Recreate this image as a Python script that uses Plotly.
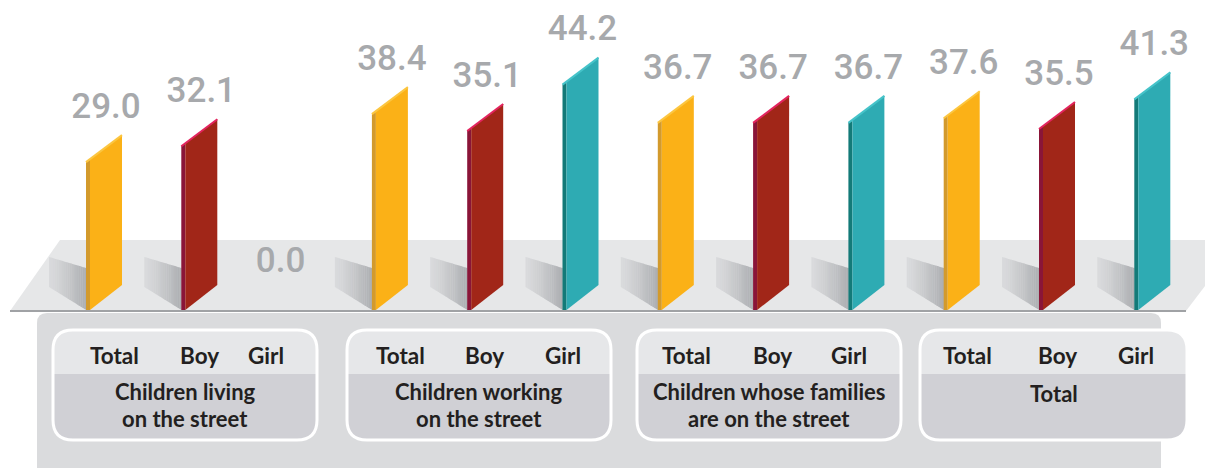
import plotly.graph_objects as go

# ---------------- data ----------------
categories = ["Children living<br>on the street",
              "Children working<br>on the street",
              "Children whose families<br>are on the street",
              "Total"]
series_names = ["Total", "Boy", "Girl"]
total_vals = [29.0, 38.4, 36.7, 37.6]
boy_vals = [32.1, 35.1, 36.7, 35.5]
girl_vals = [0.0, 44.2, 36.7, 41.3]

# ---------------- style / geometry ----------------
WIN_W, WIN_H = 1213, 468
OFF = 8                      # default page body margin
W, H = WIN_W - OFF, WIN_H - OFF
X0PX, STEP = 86.0, 95.3      # px of first bar, px per slot
BASE, K = 310.0, 5.1         # px of value 0, px per unit

face_col = {"Total": "#FBB117", "Boy": "#A12618", "Girl": "#2EABB3"}
strip_col = {"Total": "#D39A2C", "Boy": "#8A1538", "Girl": "#137A78"}
edge_col = {"Total": "#FCC640", "Boy": "#E3245E", "Girl": "#45C3C9"}
LABEL_GRAY = "#A7A9AC"
TEXT_DARK = "#231F20"


def dx(p):
    return p / STEP


def dy(p):
    return p / K


def px(x):
    return (x - OFF) / W


def py(y):
    return 1 - (y - OFF) / H


fig = go.Figure()
shapes = []

# floor (paper coords)
floor = [(10, 311), (60, 240), (1240, 240), (1186, 311)]
path = "M " + " L ".join(f"{px(a)},{py(b)}" for a, b in floor) + " Z"
shapes.append(dict(type="path", xref="paper", yref="paper", path=path,
                   fillcolor="#E6E7E8", line=dict(width=0), layer="below"))


def rrect(x0, y0, x1, y1, r, top_only=False):
    if top_only:
        return (f"M {px(x0)},{py(y1)} L {px(x0)},{py(y0 + r)} "
                f"Q {px(x0)},{py(y0)} {px(x0 + r)},{py(y0)} "
                f"L {px(x1 - r)},{py(y0)} Q {px(x1)},{py(y0)} {px(x1)},{py(y0 + r)} "
                f"L {px(x1)},{py(y1)} Z")
    return (f"M {px(x0)},{py(y1 - r)} L {px(x0)},{py(y0 + r)} "
            f"Q {px(x0)},{py(y0)} {px(x0 + r)},{py(y0)} "
            f"L {px(x1 - r)},{py(y0)} Q {px(x1)},{py(y0)} {px(x1)},{py(y0 + r)} "
            f"L {px(x1)},{py(y1 - r)} Q {px(x1)},{py(y1)} {px(x1 - r)},{py(y1)} "
            f"L {px(x0 + r)},{py(y1)} Q {px(x0)},{py(y1)} {px(x0)},{py(y1 - r)} Z")


# bottom panel
shapes.append(dict(type="path", xref="paper", yref="paper",
                   path=rrect(37, 313, 1161, 490, 10),
                   fillcolor="#DADBDD", line=dict(width=0), layer="below"))
# floor front edge
shapes.append(dict(type="line", xref="paper", yref="paper",
                   x0=px(10), x1=px(1186), y0=py(311), y1=py(311),
                   line=dict(color="#A0A2A5", width=2), layer="below"))

# category boxes
boxes = [(53, 317), (347, 611), (637, 901), (920, 1187)]
BTOP, BDIV, BBOT = 330, 374, 440
for (a, b) in boxes:
    shapes.append(dict(type="path", xref="paper", yref="paper",
                       path=rrect(a, BTOP, b, BBOT, 20),
                       fillcolor="#D0D0D5", line=dict(width=0), layer="below"))
    shapes.append(dict(type="path", xref="paper", yref="paper",
                       path=rrect(a, BTOP, b, BDIV, 20, top_only=True),
                       fillcolor="#E6E7E9", line=dict(width=0), layer="below"))
    shapes.append(dict(type="path", xref="paper", yref="paper",
                       path=rrect(a, BTOP, b, BBOT, 20),
                       fillcolor="rgba(0,0,0,0)", line=dict(color="white", width=3),
                       layer="below"))

# ---------------- bars ----------------
series_vals = {"Total": total_vals, "Boy": boy_vals, "Girl": girl_vals}
label_x, label_y, label_t = [], [], []
NSH = 20
c_left = (218, 219, 221)
c_right = (172, 174, 177)
for g in range(len(categories)):
    for s, name in enumerate(series_names):
        i = g * 3 + s
        v = series_vals[name][g]
        label_x.append(i + (dx(20) if v > 0 else dx(4)))
        label_y.append(v + dy(53) if v > 0 else v + dy(47))
        label_t.append(f"{v:.1f}")
        if v <= 0:
            continue
        # shadow (gradient strips)
        for k in range(NSH):
            t0, t1 = k / NSH, (k + 1) / NSH
            xl, xr = i - dx(37) * (1 - t0), i - dx(37) * (1 - t1)
            bl = dy(23) * (1 - t0)
            br = dy(23) * (1 - t1)
            tl = dy(53) + (dy(42) - dy(53)) * t0
            tr = dy(53) + (dy(42) - dy(53)) * t1
            tm = ((t0 + t1) / 2) ** 1.3
            c = tuple(int(c_left[j] + (c_right[j] - c_left[j]) * tm) for j in range(3))
            shapes.append(dict(type="path", xref="x", yref="y",
                               path=f"M {xl},{bl} L {xl},{tl} L {xr + 0.003},{tr} L {xr + 0.003},{br} Z",
                               fillcolor=f"rgb{c}", line=dict(width=0), layer="below"))
        # front strip
        fig.add_trace(go.Scatter(
            x=[i, i, i + dx(4), i + dx(4), i], y=[0, v, v + dy(3), 0, 0],
            fill="toself", fillcolor=strip_col[name], mode="lines",
            line=dict(width=0, color=strip_col[name]), hoverinfo="skip", showlegend=False))
        # face
        fig.add_trace(go.Scatter(
            x=[i + dx(4), i + dx(4), i + dx(36), i + dx(36), i + dx(4)],
            y=[0, v + dy(3), v + dy(27), dy(25), 0],
            fill="toself", fillcolor=face_col[name], mode="lines",
            line=dict(width=0, color=face_col[name]), hoverinfo="skip", showlegend=False))
        # top edge highlight
        fig.add_trace(go.Scatter(
            x=[i, i + dx(36)], y=[v, v + dy(27)], mode="lines",
            line=dict(width=2, color=edge_col[name]), hoverinfo="skip", showlegend=False))

fig.add_trace(go.Scatter(
    x=label_x, y=label_y, text=label_t, mode="text",
    textfont=dict(family="Roboto", size=35, color=LABEL_GRAY, weight=500),
    textposition="middle center", hoverinfo="skip", showlegend=False))

# ---------------- box texts ----------------
annotations = []
sub_pos = [(114, 199, 266), (400, 484, 563), (686, 772, 849), (968, 1057, 1136)]
SUB_FONT = dict(family="Lato", size=22.5, color=TEXT_DARK, weight="bold")
CAT_FONT = dict(family="Lato", size=22, color=TEXT_DARK, weight="bold")
for g, cat in enumerate(categories):
    for s, name in enumerate(series_names):
        annotations.append(dict(x=px(sub_pos[g][s]), y=py(355), xref="paper", yref="paper",
                                text=name, showarrow=False, font=SUB_FONT,
                                xanchor="center", yanchor="middle"))
    a, b = boxes[g]
    lines = cat.split("<br>")
    y0 = 393 if len(lines) == 1 else 391
    for ln, line in enumerate(lines):
        annotations.append(dict(x=px((a + b) / 2), y=py(y0 + 27 * ln), xref="paper", yref="paper",
                                text=line, showarrow=False, font=CAT_FONT,
                                xanchor="center", yanchor="middle", align="center"))

fig.update_layout(
    width=W, height=H, margin=dict(l=0, r=0, t=0, b=0),
    paper_bgcolor="white", plot_bgcolor="white",
    xaxis=dict(range=[(OFF - X0PX) / STEP, (WIN_W - X0PX) / STEP], visible=False, fixedrange=True),
    yaxis=dict(range=[-(WIN_H - BASE) / K, (BASE - OFF) / K], visible=False, fixedrange=True),
    shapes=shapes, annotations=annotations, showlegend=False,
)
fig.write_html("out.html")
